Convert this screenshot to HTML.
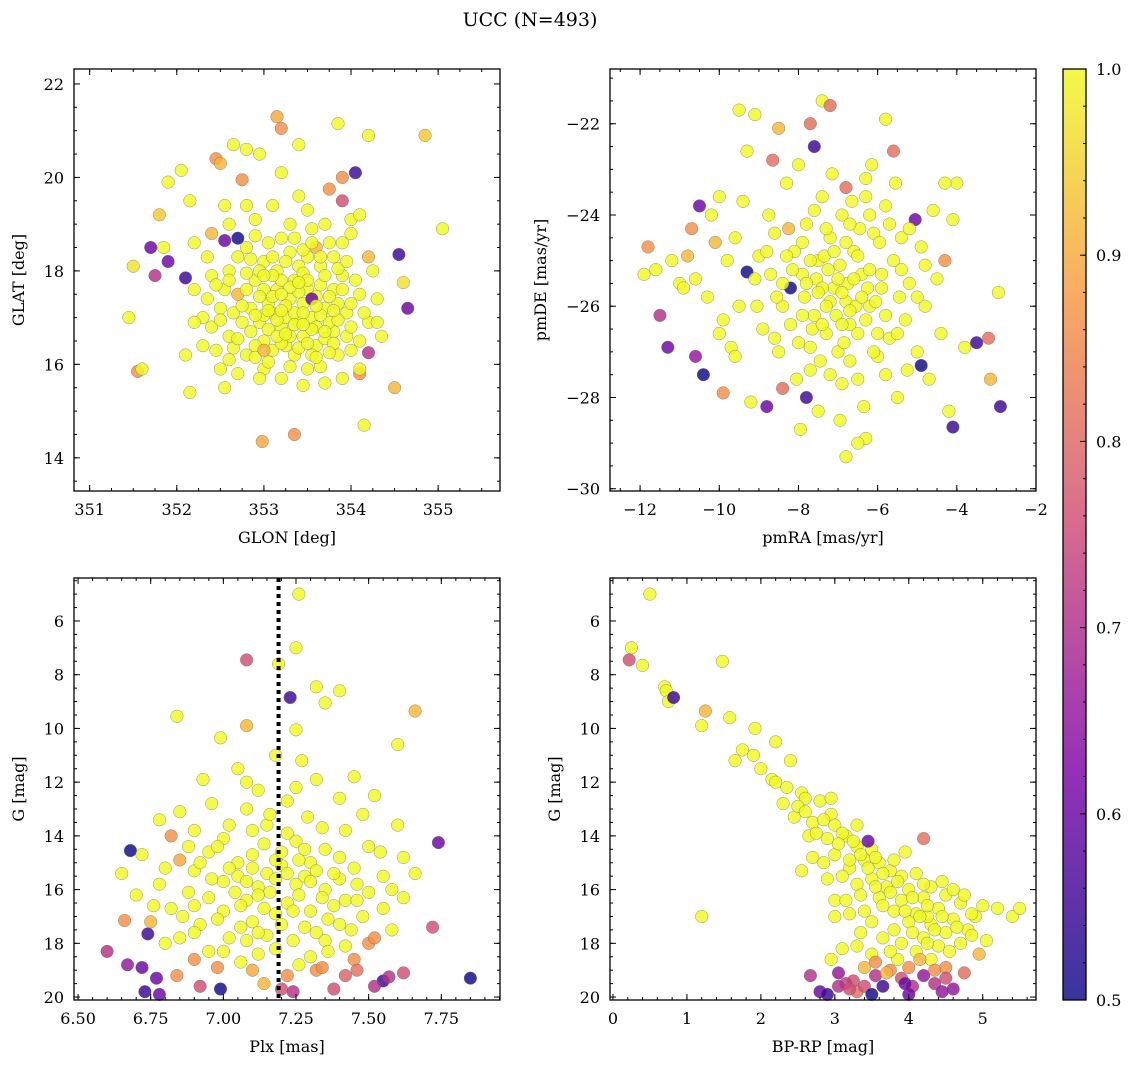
<!DOCTYPE html>
<html><head><meta charset="utf-8">
<style>
html,body{margin:0;padding:0;background:#fff;}
svg{display:block;font-family:"DejaVu Serif","Liberation Serif",serif;}
</style></head>
<body>
<svg id="fig" width="1136" height="1068" viewBox="0 0 1136 1068" xmlns="http://www.w3.org/2000/svg">
<text x="530" y="26" font-size="19" text-anchor="middle">UCC (N=493)</text>
</svg>
<script>
// ---- data (top-level arrays) ----
const glonGlat = [
[351.45,17.0,.98],[351.5,18.1,.95],[351.55,15.85,.85],[351.6,15.9,.98],[351.7,18.5,.6],[351.75,17.9,.7],[351.8,19.2,.92],[351.9,18.2,.6],[351.85,18.5,.98],[351.9,19.9,.98],[352.05,20.15,.98],[352.1,17.85,.55],[352.15,19.5,.98],[352.15,15.4,.98],[352.2,18.6,.98],[352.45,20.4,.85],[352.5,20.3,.9],[352.55,18.65,.6],[352.65,20.7,.98],[352.8,20.6,.98],[352.75,19.95,.85],[352.95,20.5,.98],[352.98,14.35,.88],[353.15,21.3,.88],[353.2,21.05,.85],[353.35,14.5,.85],[353.4,20.7,.98],[353.85,21.15,.98],[353.75,19.75,.85],[353.9,20.0,.85],[354.05,20.1,.55],[354.2,20.9,.98],[354.85,20.9,.92],[355.05,18.9,.98],[354.65,17.2,.6],[354.55,18.35,.55],[354.6,17.75,.95],[354.5,15.5,.9],[354.15,14.7,.98],[354.1,15.8,.85],[354.2,16.25,.7],[353.9,19.5,.75],[354.2,18.3,.9],[354.0,19.1,.98],[352.55,15.5,.98],[353.45,15.55,.98],[352.3,17.0,.98],
[352.3,16.4,.98],[352.4,16.8,.98],[352.5,17.2,.98],[352.6,16.6,.98],[352.7,17.5,.9],[352.8,16.2,.98],[352.9,17.8,.98],[353.0,16.5,.98],[353.1,17.1,.98],[353.2,16.8,.98],[353.3,17.4,.98],[353.4,16.9,.98],[353.5,17.6,.98],[353.6,16.4,.98],[353.7,17.2,.98],[353.8,16.7,.98],[353.9,17.9,.98],[354.0,16.3,.98],[354.1,17.5,.98],[354.2,16.9,.98],
[352.6,18.0,.98],[352.8,18.5,.98],[353.0,18.2,.98],[353.2,18.7,.98],[353.4,18.1,.98],[353.6,18.5,.9],[353.8,18.3,.98],[354.0,18.8,.98],[352.9,19.1,.98],[353.1,19.4,.98],[353.3,19.0,.98],[353.5,19.3,.98],[353.7,19.0,.98],[354.1,19.2,.98],[352.4,18.8,.9],[352.2,17.6,.98],[352.4,17.9,.98],[352.5,15.9,.98],[352.7,15.8,.98],[353.0,15.9,.98],[353.2,15.7,.98],[353.5,15.9,.98],[353.7,15.6,.98],[353.9,15.7,.98],[354.1,15.9,.98],
[353.05,17.3,.98],[353.15,17.6,.98],[353.25,17.0,.98],[353.35,17.8,.98],[353.45,17.3,.98],[353.55,17.0,.98],[353.65,17.7,.98],[353.25,16.4,.98],[353.45,16.6,.98],[352.95,16.9,.98],[352.85,17.2,.98],[353.75,16.9,.98],[353.85,17.3,.98],[353.95,17.1,.98],[353.35,16.2,.98],[353.55,16.2,.98],[352.75,16.9,.98],[352.65,17.1,.98],[353.15,18.0,.98],[353.45,17.95,.98],[353.65,18.1,.98],[353.05,18.6,.98],[352.95,18.0,.98],[353.75,18.6,.98],[353.55,18.9,.98],[353.3,18.4,.98],[353.1,16.3,.98],[352.8,17.6,.98],[353.6,17.45,.98],[353.4,17.55,.98],[353.2,17.8,.98],[353.0,17.6,.98],[352.55,17.6,.98],[352.35,18.3,.98],[352.6,19.0,.98],[352.8,19.4,.98],[353.9,18.6,.98],[354.05,17.8,.98],[354.3,17.4,.98],[354.35,16.6,.98],[354.25,18.0,.98],[352.2,16.9,.98],[352.1,16.2,.98],[353.85,16.2,.98],[353.65,15.95,.98],
[352.7,18.3,.98],[353.5,18.3,.98],[353.1,17.9,.98],[353.3,16.6,.98],[353.6,16.8,.98],[352.9,16.4,.98],[353.8,17.6,.98],[352.45,16.3,.98],[353.95,16.6,.98],[354.1,16.5,.98],[352.65,16.35,.98],[353.35,17.1,.98],[353.0,17.05,.98],[353.7,16.55,.98],[352.9,18.75,.98],[353.4,19.6,.98],[352.55,19.4,.98],[353.2,20.1,.98],[352.7,18.7,.5],[353.55,17.4,.6],
[352.75,17.25,.98],[352.85,16.7,.98],[352.95,17.45,.98],[353.05,16.75,.98],[353.15,16.95,.98],[353.25,17.25,.98],[353.35,16.85,.98],[353.45,17.1,.98],[353.55,16.75,.98],[353.65,17.05,.98],[353.75,17.45,.98],[353.85,16.95,.98],[353.1,17.45,.98],[353.2,17.15,.98],[353.3,17.65,.98],[353.5,17.8,.98],[353.7,17.9,.98],[353.9,17.6,.98],[352.7,16.55,.98],[352.9,16.15,.98],[353.05,16.05,.98],[353.2,16.45,.98],[353.4,16.35,.98],[353.6,16.15,.98],[353.8,16.45,.98],[352.8,17.95,.98],[353.0,17.9,.98],[353.25,18.2,.98],[353.45,18.45,.98],[353.65,18.3,.98],[353.85,18.05,.98],[352.6,17.8,.98],[352.5,16.95,.98],[352.35,17.4,.98],[354.0,17.3,.98],[354.15,17.1,.98],[354.0,16.8,.98],[353.35,18.7,.98],[353.1,18.3,.98],[352.85,18.25,.98],[353.55,18.6,.98],[353.15,16.6,.98],[353.5,16.45,.98],[352.6,16.1,.98],[353.3,15.95,.98],[352.95,15.7,.98],[353.75,16.25,.98],[354.3,16.9,.98],[353.95,18.2,.98],[352.45,17.7,.98],[353.4,17.75,.98],[353.6,17.25,.98],[353.05,17.15,.98],[352.9,17.05,.98],[353.2,17.5,.98],[353.7,16.7,.98],[353.8,17.15,.98],[353.45,16.85,.98],[353.25,16.65,.98],[353.0,16.3,.9]
];
const pmraPmde = [
[-11.8,-24.7,.85],[-11.5,-26.2,.7],[-11.3,-26.9,.6],[-10.4,-27.5,.5],[-10.6,-27.1,.65],[-10.5,-23.8,.6],[-9.3,-25.25,.5],[-8.65,-22.8,.8],[-8.5,-22.1,.9],[-7.6,-22.5,.55],[-7.4,-21.5,.98],[-7.2,-21.6,.8],[-6.8,-23.4,.8],[-5.8,-21.9,.98],[-5.6,-22.6,.8],[-4.1,-28.65,.55],[-3.2,-26.7,.8],[-3.15,-27.6,.9],[-2.9,-28.2,.55],[-2.95,-25.7,.98],[-3.5,-26.8,.55],[-4.9,-27.3,.5],[-5.05,-24.1,.6],[-6.8,-29.3,.98],[-6.3,-28.9,.98],[-9.2,-28.1,.98],[-8.8,-28.2,.6],[-7.8,-28.0,.55],[-8.2,-25.6,.5],[-4.2,-28.3,.98],[-6.5,-29.0,.98],[-9.5,-21.7,.98],[-9.1,-21.8,.98],[-4.0,-23.3,.98],[-4.3,-23.3,.98],
[-11.9,-25.3,.98],[-11.6,-25.2,.98],[-11.2,-25.0,.98],[-11.0,-25.5,.98],[-10.8,-24.9,.9],[-10.9,-25.6,.98],[-10.2,-24.0,.98],[-10.0,-23.6,.98],[-10.1,-24.6,.9],[-9.8,-25.0,.98],[-9.6,-24.5,.98],[-9.4,-23.7,.98],[-9.5,-26.0,.98],[-9.7,-26.9,.98],[-9.9,-26.3,.98],[-9.3,-22.6,.98],[-9.0,-24.9,.98],[-8.9,-26.5,.98],[-8.7,-25.3,.98],[-8.6,-24.4,.98],[-8.5,-27.0,.98],[-8.4,-26.0,.98],[-8.3,-23.3,.98],[-8.1,-24.8,.98],[-8.0,-26.8,.98],[-7.9,-25.3,.98],[-7.8,-24.2,.98],[-7.7,-27.4,.98],[-7.6,-26.2,.98],[-7.5,-25.0,.98],[-7.4,-23.6,.98],[-7.3,-26.6,.98],[-7.2,-24.5,.98],[-7.1,-25.6,.98],[-7.0,-27.0,.98],[-6.9,-24.0,.98],[-6.8,-25.9,.98],[-6.7,-26.4,.98],[-6.6,-24.8,.98],[-6.5,-27.6,.98],[-6.4,-25.3,.98],[-6.3,-23.2,.98],[-6.2,-26.0,.98],[-6.1,-24.4,.98],[-6.0,-27.1,.98],[-5.9,-25.6,.98],[-5.8,-23.8,.98],[-5.7,-26.7,.98],[-5.6,-25.0,.98],[-5.5,-28.0,.98],[-5.4,-24.5,.98],[-5.3,-26.3,.98],[-5.2,-25.5,.98],[-5.0,-27.0,.98],[-4.9,-24.7,.98],[-4.8,-26.0,.98],[-4.6,-23.9,.98],[-4.5,-25.4,.98],[-4.4,-26.6,.98],[-4.1,-24.1,.98],[-3.8,-26.9,.98],
[-7.55,-25.4,.98],[-7.25,-25.2,.98],[-6.95,-25.1,.98],[-6.75,-25.5,.98],[-7.05,-26.2,.98],[-6.55,-26.0,.98],[-7.35,-24.9,.98],[-6.45,-24.3,.98],[-7.85,-25.8,.98],[-8.15,-25.2,.98],[-6.25,-25.6,.98],[-6.05,-25.9,.98],[-7.65,-26.5,.98],[-6.85,-26.8,.98],[-7.45,-27.2,.98],[-5.95,-24.6,.98],[-8.25,-24.3,.9],[-6.65,-23.7,.98],[-7.15,-23.1,.98],[-5.45,-25.8,.98],[-8.55,-25.8,.98],[-8.75,-24.0,.98],[-9.05,-26.0,.98],[-8.05,-27.6,.98],[-6.35,-28.2,.98],[-5.25,-27.4,.98],[-4.7,-27.6,.98],[-6.95,-28.5,.98],[-7.95,-28.7,.98],[-9.9,-27.9,.85],[-10.7,-24.3,.85],[-10.3,-25.8,.98],[-4.3,-25.0,.85],[-5.55,-23.3,.98],[-6.15,-22.9,.98],[-7.7,-22.0,.8],[-8.0,-22.9,.98],
[-7.4,-25.6,.98],[-7.2,-25.9,.98],[-7.0,-25.4,.98],[-6.9,-25.7,.98],[-6.6,-25.4,.98],[-6.4,-25.8,.98],[-6.3,-26.3,.98],[-6.7,-26.1,.98],[-7.3,-26.0,.98],[-7.5,-25.7,.98],[-7.8,-25.5,.98],[-7.7,-25.0,.98],[-7.1,-24.8,.98],[-6.8,-24.6,.98],[-6.5,-24.9,.98],[-6.2,-25.2,.98],[-5.9,-25.3,.98],[-5.8,-26.2,.98],[-6.0,-26.6,.98],[-6.5,-26.6,.98],[-6.9,-26.4,.98],[-7.4,-26.4,.98],[-7.9,-26.2,.98],[-8.2,-26.4,.98],[-8.4,-25.5,.98],[-8.3,-24.9,.98],[-7.9,-24.6,.98],[-7.3,-24.3,.98],[-6.7,-24.2,.98],[-6.2,-24.0,.98],[-5.7,-24.2,.98],[-5.4,-25.2,.98],[-5.5,-26.6,.98],[-6.1,-27.0,.98],[-6.7,-27.2,.98],[-7.2,-27.5,.98],[-7.7,-26.9,.98],[-8.6,-26.7,.98],[-9.1,-25.4,.98],[-8.8,-24.8,.98],[-7.6,-23.9,.98],[-6.3,-23.6,.98],[-5.0,-25.8,.98],[-4.8,-25.1,.98],[-5.2,-24.3,.98],[-6.9,-27.7,.98],[-5.8,-27.5,.98],[-7.5,-28.3,.98],[-8.4,-27.8,.8],[-9.6,-27.1,.98],[-10.0,-26.6,.98],[-10.6,-25.4,.98]
];
const plxG = [
[7.26,5.0,.98],[7.25,7.0,.98],[7.08,7.45,.75],[7.19,7.6,.98],[7.23,8.85,.55],[7.32,8.45,.98],[7.4,8.6,.98],[7.35,9.05,.98],[7.66,9.35,.9],[6.84,9.55,.98],[7.08,9.9,.9],[6.99,10.35,.98],[7.25,10.05,.98],[7.6,10.6,.98],[6.68,14.55,.5],[7.74,14.25,.6],[7.85,19.3,.5],[6.6,18.3,.7],[6.67,18.8,.65],[6.72,18.9,.6],[6.74,17.65,.55],[6.73,19.8,.55],[6.78,19.9,.6],[6.77,19.3,.6],[6.99,19.7,.5],[7.55,19.4,.55],[7.72,17.4,.75],[7.57,19.25,.7],[7.38,19.7,.75],
[7.18,11.0,.98],[7.27,11.2,.98],[7.45,11.8,.98],[7.05,11.5,.98],[6.93,11.9,.98],[7.32,11.9,.98],[7.12,12.3,.98],[6.96,12.8,.98],[7.22,12.7,.98],[7.4,12.6,.98],[7.52,12.5,.98],[6.85,13.1,.98],[7.08,13.0,.98],[7.29,13.3,.98],[6.78,13.4,.98],[7.6,13.6,.98],[6.9,13.8,.98],[7.15,13.6,.98],[7.42,13.8,.98],[6.82,14.0,.85],[7.0,14.1,.98],[7.25,14.2,.98],[7.5,14.4,.98],[6.72,14.7,.98],[6.95,14.6,.98],[7.1,14.7,.98],[7.35,14.5,.98],[7.62,14.8,.98],[6.85,14.9,.88],[7.05,15.0,.98],[7.2,15.1,.98],[7.3,15.0,.98],[7.45,15.2,.98],[6.65,15.4,.98],[6.9,15.3,.98],[7.15,15.4,.98],[7.4,15.6,.98],[7.55,15.5,.98],[6.78,15.8,.98],[7.0,15.7,.98],[7.12,15.9,.98],[7.25,15.8,.98],[7.35,16.0,.98],[7.5,16.1,.98],[6.7,16.2,.98],[6.95,16.3,.98],[7.08,16.4,.98],[7.22,16.5,.98],[7.42,16.4,.98],[7.62,16.3,.98],[6.82,16.7,.98],[7.0,16.8,.98],[7.18,16.9,.98],[7.3,16.8,.98],[7.48,17.0,.98],[6.75,17.2,.9],[6.92,17.3,.98],[7.1,17.2,.98],[7.28,17.4,.98],[7.4,17.3,.98],[7.58,17.5,.98],[6.85,17.8,.98],[7.02,17.8,.98],[7.15,17.7,.98],[7.35,17.9,.98],[7.5,18.0,.85],[6.66,17.15,.85],[6.8,18.0,.98],[6.95,18.3,.98],[7.12,18.4,.98],[7.3,18.5,.98],[7.45,18.6,.85],[6.98,18.9,.85],[7.1,19.0,.88],[7.22,19.2,.85],[7.32,19.0,.85],[7.42,19.2,.78],[6.84,19.2,.85],[6.92,19.6,.75],[7.2,19.7,.75],[7.24,19.8,.7],[7.62,19.1,.75],[7.52,19.6,.7],[7.05,15.5,.98],[7.18,14.9,.98],[7.28,15.5,.98],[7.16,16.1,.98],[7.38,16.6,.98],[6.88,16.1,.98],[7.25,12.2,.98],[7.08,12.0,.98],[7.48,13.2,.98],[6.98,14.4,.98],[7.22,13.9,.98],[7.12,17.6,.98],[7.02,13.6,.98],[7.55,16.7,.98],
[7.14,14.3,.98],[7.2,14.6,.98],[7.26,14.9,.98],[7.1,15.2,.98],[7.22,15.4,.98],[7.32,15.3,.98],[7.02,15.2,.98],[6.96,15.6,.98],[7.08,15.7,.98],[7.18,15.6,.98],[7.3,15.7,.98],[7.38,15.4,.98],[7.46,15.8,.98],[7.04,16.1,.98],[7.12,16.2,.98],[7.26,16.2,.98],[7.34,16.3,.98],[7.46,16.4,.98],[6.9,16.6,.98],[7.06,16.6,.98],[7.14,16.7,.98],[7.24,16.8,.98],[7.36,17.1,.98],[6.98,17.1,.98],[7.06,17.4,.98],[7.2,17.3,.98],[7.32,17.6,.98],[7.44,17.5,.98],[6.9,17.6,.98],[7.08,17.9,.98],[7.24,17.9,.98],[7.42,18.1,.98],[7.0,18.3,.98],[7.18,18.2,.98],[7.36,18.3,.98],[7.06,18.7,.98],[7.26,18.8,.98],[7.16,13.2,.98],[7.34,13.7,.98],[7.1,13.8,.98],[7.28,14.5,.98],[7.4,14.8,.98],[7.54,14.6,.98],[6.88,14.4,.98],[6.92,15.0,.98],[6.8,15.2,.98],[6.76,16.6,.98],[6.86,17.0,.98],[7.58,16.0,.98],[7.66,15.4,.98],[7.52,17.8,.85],[7.34,18.9,.85],[6.9,18.6,.85],[7.46,19.0,.8],[7.14,19.5,.9]
];
const bprpG = [
[0.5,5.0,.98],[0.25,7.0,.98],[0.22,7.45,.75],[0.4,7.65,.98],[0.7,8.45,.98],[0.72,8.6,.98],[0.75,9.0,.98],[0.82,8.85,.55],[1.48,7.5,.98],[1.2,9.9,.98],[1.25,9.35,.9],[1.58,9.6,.98],[1.92,10.0,.98],[2.2,10.5,.98],[1.75,10.8,.98],[1.65,11.2,.98],[1.9,11.0,.98],[2.0,11.5,.98],[2.4,11.2,.98],[2.15,11.9,.98],[2.55,12.4,.98],[2.3,12.8,.98],[2.6,12.6,.98],[2.8,12.7,.98],[2.45,13.3,.98],[2.7,13.5,.98],[2.95,13.2,.98],[3.0,13.6,.98],[2.65,14.0,.98],[2.9,14.1,.98],[3.15,14.0,.98],[3.3,14.4,.98],[3.0,14.7,.98],[2.7,14.8,.98],[3.5,14.5,.98],[3.4,14.9,.98],[3.2,15.2,.98],[3.6,15.0,.98],[3.75,15.3,.98],[3.5,15.6,.98],[3.9,15.5,.98],[4.1,15.4,.98],[3.3,15.8,.98],[3.7,15.9,.98],[4.0,16.0,.98],[4.3,15.9,.98],[3.6,16.3,.98],[3.9,16.4,.98],[4.2,16.3,.98],[4.5,16.2,.98],[3.8,16.8,.98],[4.1,16.9,.98],[4.4,16.7,.98],[4.7,16.5,.98],[4.0,17.2,.98],[4.3,17.3,.98],[4.6,17.1,.98],[4.9,17.0,.98],[5.2,16.7,.98],[4.5,17.6,.98],[4.8,17.5,.98],[5.05,17.9,.98],[4.2,17.8,.98],[4.4,18.1,.98],[4.7,18.0,.98],[4.95,18.4,.9],[4.1,18.3,.98],[4.3,18.6,.98],[3.8,17.5,.98],[3.5,17.2,.98],[3.2,16.9,.98],[3.0,16.4,.98],[1.2,17.0,.98],[3.1,18.2,.98],[3.5,18.4,.98],[3.85,18.6,.98],[4.0,18.9,.85],[4.5,18.9,.85],[4.2,14.1,.8],[3.95,14.6,.98],[3.45,14.2,.6],[2.55,15.3,.98],[2.85,15.0,.98],[3.1,15.5,.98],[3.35,16.2,.98],[2.75,13.9,.98],[2.35,12.2,.98],[3.8,14.9,.98],[4.6,16.0,.98],[5.4,17.0,.98],[5.5,16.7,.98],[4.25,17.0,.98],[3.65,16.6,.98],
[2.67,19.2,.7],[2.8,19.8,.6],[2.9,19.9,.55],[3.05,19.1,.65],[3.25,19.4,.75],[3.3,19.8,.8],[3.4,19.6,.75],[3.55,19.2,.7],[3.65,19.6,.55],[3.75,19.0,.85],[3.9,19.3,.75],[4.05,19.6,.7],[4.2,19.2,.65],[4.35,19.5,.7],[4.5,19.3,.75],[4.6,19.7,.65],[3.5,19.9,.5],[3.15,19.5,.72],[4.75,19.1,.8],[4.0,19.9,.6],
[2.2,12.0,.98],[2.5,12.9,.98],[2.85,13.4,.98],[3.1,13.9,.98],[3.25,14.2,.98],[3.05,14.3,.98],[3.35,14.7,.98],[3.55,14.8,.98],[3.45,15.2,.98],[3.65,15.4,.98],[3.85,15.7,.98],[3.55,15.9,.98],[3.75,16.1,.98],[4.05,16.3,.98],[4.25,16.6,.98],[3.95,16.8,.98],[4.15,17.0,.98],[4.45,17.0,.98],[4.35,17.5,.98],[4.65,17.4,.98],[4.05,17.6,.98],[4.25,18.0,.98],[4.55,18.3,.98],[4.85,17.7,.98],[3.9,18.0,.98],[3.65,17.8,.98],[3.35,17.6,.98],[3.75,18.3,.98],[4.15,18.6,.9],[3.4,18.9,.9],[3.7,19.1,.9],[4.35,19.0,.85],[4.85,16.9,.98],[5.0,16.6,.98],[4.75,16.2,.98],[4.45,15.7,.98],[4.2,15.8,.98],[3.3,13.6,.98],[2.6,13.1,.98],[2.95,12.6,.98],[3.2,14.9,.98],[2.9,15.6,.98],[3.15,16.4,.98],[3.0,17.0,.98],[3.4,16.8,.98],[3.3,18.1,.98],[2.95,18.6,.98],[3.55,18.7,.85],[3.05,19.6,.7],[3.95,19.5,.6],[4.45,19.8,.65],[3.2,19.7,.75]
];
const xTicksGlon=[351,352,353,354,355], yTicksGlat=[14,16,18,20,22];
const xTicksPm=[-12,-10,-8,-6,-4,-2], yTicksPm=[-30,-28,-26,-24,-22];
const xTicksPlx=[6.5,6.75,7.0,7.25,7.5,7.75], xTickLabelsPlx=["6.50","6.75","7.00","7.25","7.50","7.75"];
const yTicksG=[6,8,10,12,14,16,18,20];
const xTicksBprp=[0,1,2,3,4,5];
const cbarTicks=[0.5,0.6,0.7,0.8,0.9,1.0];
const plxMarker=[7.19];

// ---- rendering ----
const NS="http://www.w3.org/2000/svg";
const svg=document.getElementById('fig');
function mk(tag,attrs,parent){const e=document.createElementNS(NS,tag);for(const k in attrs)e.setAttribute(k,attrs[k]);(parent||svg).appendChild(e);return e;}
const stops=[[0,[13,8,135]],[0.25,[126,3,168]],[0.5,[204,71,120]],[0.75,[248,149,64]],[1,[240,249,33]]];
function plasma(t){t=Math.max(0,Math.min(1,t));for(let i=1;i<stops.length;i++){if(t<=stops[i][0]){const a=stops[i-1],b=stops[i];const f=(t-a[0])/(b[0]-a[0]);return 'rgb('+a[1].map((v,j)=>Math.round(v+(b[1][j]-v)*f)).join(',')+')';}}return 'rgb(240,249,33)';}
function cval(c){return plasma((c-0.5)/0.48);}
function fmt(v){return (v<0?'\u2212':'')+Math.abs(v);}

function panel(o){
  const g=mk('g',{});
  
  
  const sx=v=>o.x0+(v-o.xmin)/(o.xmax-o.xmin)*(o.x1-o.x0);
  const sy=o.yinv?(v=>o.y0+(v-o.ymin)/(o.ymax-o.ymin)*(o.y1-o.y0)):(v=>o.y1-(v-o.ymin)/(o.ymax-o.ymin)*(o.y1-o.y0));
  const pts=mk('g',{},g);
  
  
  o.data.forEach(d=>{
    const c=mk('circle',{cx:sx(d[0]).toFixed(1),cy:sy(d[1]).toFixed(1),r:6.3,fill:cval(d[2]),'fill-opacity':0.82,stroke:'#666','stroke-width':0.5,'stroke-opacity':0.7},pts);
    
    
  });
  if(o.vline){o.vline.forEach(v=>{const l=mk('line',{x1:sx(v),x2:sx(v),y1:o.y0,y2:o.y1,stroke:'#000','stroke-width':4,'stroke-dasharray':'4 4'},g);
    
    });}
  const fr=mk('rect',{x:o.x0,y:o.y0,width:o.x1-o.x0,height:o.y1-o.y0,fill:'none',stroke:'#000','stroke-width':1.3},g);
  
  
  const tk=mk('g',{stroke:'#000','stroke-width':1},g);
  for(let v=Math.ceil(o.xmin/o.xminor)*o.xminor;v<=o.xmax+1e-9;v+=o.xminor){const X=sx(v);mk('line',{x1:X,x2:X,y1:o.y1,y2:o.y1-3},tk);mk('line',{x1:X,x2:X,y1:o.y0,y2:o.y0+3},tk);}
  for(let v=Math.ceil(o.ymin/o.yminor)*o.yminor;v<=o.ymax+1e-9;v+=o.yminor){const Y=sy(v);mk('line',{x1:o.x0,x2:o.x0+3,y1:Y,y2:Y},tk);mk('line',{x1:o.x1,x2:o.x1-3,y1:Y,y2:Y},tk);}
  o.xt.forEach((v,i)=>{const X=sx(v);mk('line',{x1:X,x2:X,y1:o.y1,y2:o.y1-6},tk);mk('line',{x1:X,x2:X,y1:o.y0,y2:o.y0+6},tk);
    const t=mk('text',{x:X,y:o.y1+24,'font-size':16,'text-anchor':'middle'},g);t.textContent=o.xl?o.xl[i]:fmt(v);
    
    });
  o.yt.forEach(v=>{const Y=sy(v);mk('line',{x1:o.x0,x2:o.x0+6,y1:Y,y2:Y},tk);mk('line',{x1:o.x1,x2:o.x1-6,y1:Y,y2:Y},tk);
    const t=mk('text',{x:o.x0-10,y:Y+6,'font-size':16,'text-anchor':'end'},g);t.textContent=fmt(v);
    
    });
  const xl=mk('text',{x:(o.x0+o.x1)/2,y:o.y1+52,'font-size':16,'text-anchor':'middle'},g);xl.textContent=o.xlabel;
  
  
  const yx=o.ylx, yy=(o.y0+o.y1)/2;
  const yl=mk('text',{x:yx,y:yy,'font-size':16,'text-anchor':'middle',transform:`rotate(-90 ${yx} ${yy})`},g);yl.textContent=o.ylabel;
  
  
}
panel({name:'glon-glat-panel',data:glonGlat,x0:74,x1:500,y0:69,y1:491,xmin:350.82,xmax:355.71,ymin:13.29,ymax:22.32,xt:xTicksGlon,yt:yTicksGlat,xminor:0.25,yminor:0.5,xlabel:'GLON [deg]',ylabel:'GLAT [deg]',ylx:24});
panel({name:'pm-panel',data:pmraPmde,x0:610,x1:1036,y0:69,y1:491,xmin:-12.76,xmax:-2,ymin:-30.05,ymax:-20.8,xt:xTicksPm,yt:yTicksPm,xminor:0.5,yminor:0.5,xlabel:'pmRA [mas/yr]',ylabel:'pmDE [mas/yr]',ylx:546});
panel({name:'plx-g-panel',data:plxG,x0:74,x1:500,y0:578,y1:1000,xmin:6.486,xmax:7.952,ymin:4.40,ymax:20.11,yinv:true,xt:xTicksPlx,xl:xTickLabelsPlx,yt:yTicksG,xminor:0.05,yminor:0.5,xlabel:'Plx [mas]',ylabel:'G [mag]',ylx:24,vline:plxMarker});
panel({name:'cmd-panel',data:bprpG,x0:610,x1:1036,y0:578,y1:1000,xmin:-0.04,xmax:5.72,ymin:4.40,ymax:20.11,yinv:true,xt:xTicksBprp,yt:yTicksG,xminor:0.2,yminor:0.5,xlabel:'BP-RP [mag]',ylabel:'G [mag]',ylx:560});

// colorbar
(function(){
  const cb=mk('g',{});
  
  
  const defs=mk('defs',{},cb);
  const lg=mk('linearGradient',{id:'cbg',x1:0,y1:1,x2:0,y2:0},defs);
  for(let i=0;i<=20;i++){mk('stop',{offset:i/20,'stop-color':plasma(i/20),'stop-opacity':0.82},lg);}
  const x0=1063,x1=1086,y0=69,y1=1000;
  mk('rect',{x:x0,y:y0,width:x1-x0,height:y1-y0,fill:'url(#cbg)',stroke:'#000','stroke-width':1.3},cb);
  const sy=v=>y1-(v-0.5)/0.5*(y1-y0);
  for(let v=0.5;v<=1.0001;v+=0.02){const Y=sy(v);mk('line',{x1:x1,x2:x1-3,y1:Y,y2:Y,stroke:'#000'},cb);}
  cbarTicks.forEach(v=>{const Y=sy(v);mk('line',{x1:x1,x2:x1-6,y1:Y,y2:Y,stroke:'#000'},cb);
    const t=mk('text',{x:x1+10,y:Y+6,'font-size':16},cb);t.textContent=v.toFixed(1);
    
    });
})();
</script>
</body></html>
